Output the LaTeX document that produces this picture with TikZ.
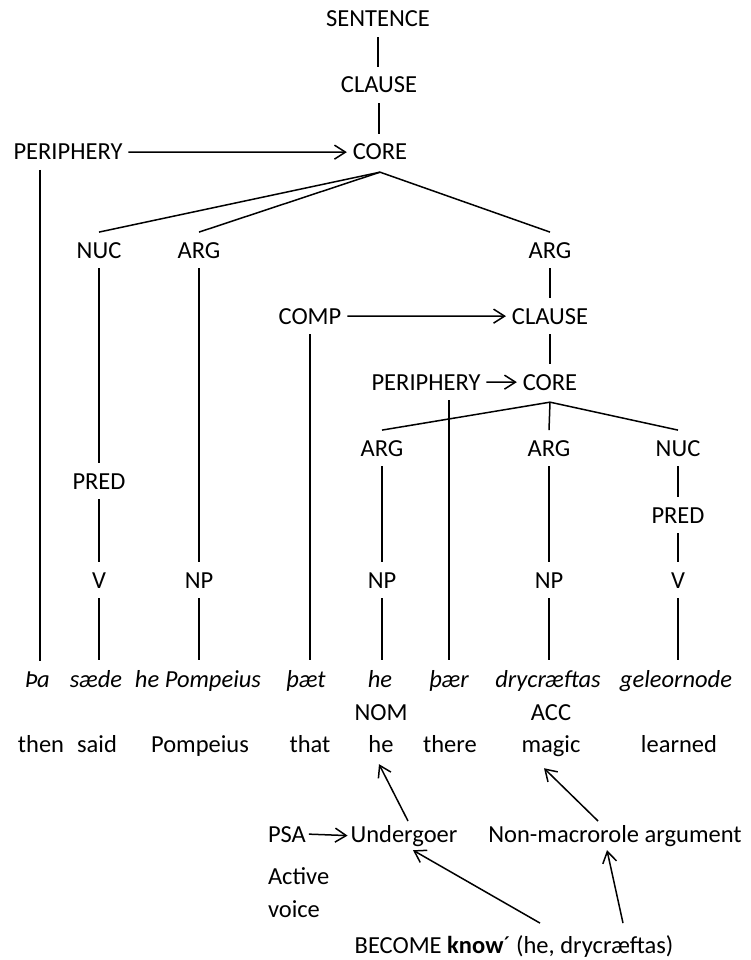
\documentclass[tikz,border=0pt]{standalone}
\usepackage{fontspec}
\setmainfont{Carlito}
\usetikzlibrary{arrows.meta}
\begin{document}
\begin{tikzpicture}[x=1pt,y=-1pt,
  lbl/.style={anchor=base,inner sep=0pt,outer xsep=6pt,outer ysep=10pt,font=\fontsize{24.5}{29}\selectfont},
  wrd/.style={lbl,font=\fontsize{24.5}{29}\selectfont\itshape},
  ln/.style={line width=1.5pt},
  arr/.style={line width=1.5pt,-{Straight Barb[length=11pt,width=14pt,line width=1.5pt]}}]
\useasboundingbox (0,0) rectangle (750,960);
% tree nodes
\node[lbl] (s) at (378,27) {SENTENCE};
\node[lbl] (cl1) at (379,93) {CLAUSE};
\node[lbl] (core1) at (380,160) {CORE};
\node[lbl] (per1) at (68,160) {PERIPHERY};
\node[lbl] (nuc1) at (99,258) {NUC};
\node[lbl] (arg1) at (199,258) {ARG};
\node[lbl] (arg2) at (550,258) {ARG};
\node[lbl] (comp) at (310,324) {COMP};
\node[lbl] (cl2) at (550,324) {CLAUSE};
\node[lbl] (per2) at (426,390) {PERIPHERY};
\node[lbl] (core2) at (550,390) {CORE};
\node[lbl] (arg3) at (382,456) {ARG};
\node[lbl] (arg4) at (549,456) {ARG};
\node[lbl] (nuc2) at (678,456) {NUC};
\node[lbl] (pred1) at (99,489) {PRED};
\node[lbl] (pred2) at (678,523) {PRED};
\node[lbl] (v1) at (99,588) {V};
\node[lbl] (np1) at (199,588) {NP};
\node[lbl] (np2) at (382,588) {NP};
\node[lbl] (np3) at (549,588) {NP};
\node[lbl] (v2) at (678,588) {V};
% words
\node[wrd] (tha) at (37,687) {Þa};
\node[wrd] (saede) at (96,687) {sæde};
\node[wrd] (hepomp) at (198,687) {he Pompeius};
\node[wrd] (thaet) at (306,687) {þæt};
\node[wrd] (he) at (380,687) {he};
\node[wrd] (thaer) at (449,687) {þær};
\node[wrd] (dry) at (548,687) {drycræftas};
\node[wrd] (gele) at (676,687) {geleornode};
\node[lbl] (nom) at (381,720) {NOM};
\node[lbl] (acc) at (551,720) {ACC};
% glosses
\node[lbl] (gthen) at (41,752) {then};
\node[lbl] (gsaid) at (97,752) {said};
\node[lbl] (gpomp) at (200,752) {Pompeius};
\node[lbl] (gthat) at (310,752) {that};
\node[lbl] (ghe) at (381,752) {he};
\node[lbl] (gthere) at (450,752) {there};
\node[lbl] (gmagic) at (551,752) {magic};
\node[lbl] (glearned) at (679,752) {learned};
% bottom
\node[lbl,anchor=base west,outer xsep=3pt] (psa) at (265,842) {PSA};
\node[lbl,outer xsep=3pt] (und) at (404,842) {Undergoer};
\node[lbl] (nonmac) at (615,842) {Non-macrorole argument};
\node[lbl,anchor=base west,outer xsep=0pt] (active) at (268,884) {Active};
\node[lbl,anchor=base west,outer xsep=0pt] (voice) at (268,917) {voice};
\node[lbl] (become) at (514,953) {BECOME \textbf{know}´ (he, drycræftas)};
% tree lines
\draw[ln] (s.south) -- (s.south |- cl1.north);
\draw[ln] (cl1.south) -- (cl1.south |- core1.north);
\draw[arr] (per1.east) -- (core1.west);
\draw[ln] ([yshift=-2pt]core1.south) -- (nuc1.north);
\draw[ln] ([yshift=-2pt]core1.south) -- (arg1.north);
\draw[ln] ([yshift=-2pt]core1.south) -- (arg2.north);
\draw[ln] ([xshift=-28pt]per1.south) -- ([xshift=-28pt]per1.south |- tha.north);
\draw[ln] (nuc1.south) -- (pred1.north);
\draw[ln] (pred1.south) -- (v1.north);
\draw[ln] (v1.south) -- (v1.south |- saede.north);
\draw[ln] (arg1.south) -- (np1.north);
\draw[ln] (np1.south) -- (np1.south |- hepomp.north);
\draw[arr] (comp.east) -- (cl2.west);
\draw[ln] (comp.south) -- (comp.south |- thaet.north);
\draw[ln] (arg2.south) -- (cl2.north);
\draw[ln] (cl2.south) -- (core2.north);
\draw[arr] (per2.east) -- (core2.west);
\draw[ln] (per2.south -| thaer.north) -- (thaer.north);
\draw[ln] ([yshift=-2pt]core2.south) -- (arg3.north);
\draw[ln] ([yshift=-2pt]core2.south) -- (arg4.north);
\draw[ln] ([yshift=-2pt]core2.south) -- (nuc2.north);
\draw[ln] (arg3.south) -- (np2.north);
\draw[ln] (np2.south) -- (np2.south |- he.north);
\draw[ln] (arg4.south) -- (np3.north);
\draw[ln] (np3.south) -- (np3.south |- dry.north);
\draw[ln] (nuc2.south) -- (pred2.north);
\draw[ln] (pred2.south) -- (v2.north);
\draw[ln] (v2.south) -- (v2.south |- gele.north);
% bottom arrows
\draw[arr] (psa.east) -- (und.west);
\draw[arr] ([xshift=4pt,yshift=-6pt]und.north) -- ([xshift=-2pt,yshift=-2pt]ghe.south);
\draw[arr] ([xshift=-17pt,yshift=-6pt]nonmac.north) -- ([xshift=-7pt,yshift=-2pt]gmagic.south);
\draw[arr] ([xshift=26pt,yshift=2pt]become.north) -- ([xshift=9pt,yshift=6pt]und.south);
\draw[arr] ([xshift=109pt,yshift=2pt]become.north) -- ([xshift=-8pt,yshift=6pt]nonmac.south);
\end{tikzpicture}
\end{document}
